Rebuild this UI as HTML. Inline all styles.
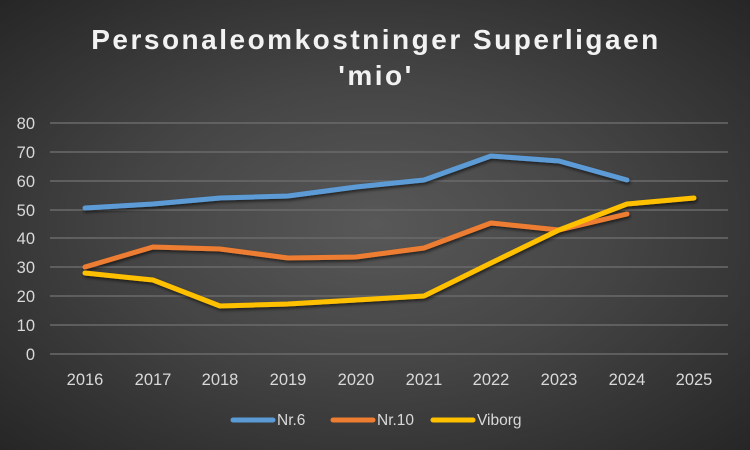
<!DOCTYPE html>
<html><head><style>
body{margin:0;width:750px;height:450px;overflow:hidden;background:radial-gradient(ellipse at 50% 50%,#585858 0%,#454545 45%,#262626 100%);font-family:"Liberation Sans",sans-serif}
</style></head><body>
<svg width="750" height="450" xmlns="http://www.w3.org/2000/svg" style="position:absolute;left:0;top:0">
<defs><filter id="s" x="-5%" y="-20%" width="110%" height="140%"><feDropShadow dx="1" dy="2" stdDeviation="1.5" flood-color="#000" flood-opacity="0.6"/></filter></defs>
<g fill="#f2f2f2" font-weight="bold" font-size="28" text-anchor="middle" letter-spacing="2.5">
<text x="376" y="49">Personaleomkostninger Superligaen</text>
<text x="376" y="85">'mio'</text></g>
<g stroke="#6a6a6a" stroke-width="1.5">
<line x1="50" x2="728" y1="123" y2="123"/><line x1="50" x2="728" y1="152" y2="152"/><line x1="50" x2="728" y1="181" y2="181"/><line x1="50" x2="728" y1="210" y2="210"/><line x1="50" x2="728" y1="238" y2="238"/><line x1="50" x2="728" y1="267" y2="267"/><line x1="50" x2="728" y1="296" y2="296"/><line x1="50" x2="728" y1="325" y2="325"/><line x1="50" x2="728" y1="354" y2="354"/>
</g>
<g fill="#d9d9d9" font-size="16.5" text-anchor="end">
<text x="35" y="129">80</text><text x="35" y="158">70</text><text x="35" y="187">60</text><text x="35" y="216">50</text><text x="35" y="244">40</text><text x="35" y="273">30</text><text x="35" y="302">20</text><text x="35" y="331">10</text><text x="35" y="360">0</text></g>
<g fill="#d9d9d9" font-size="16.5" text-anchor="middle">
<text x="85" y="385">2016</text><text x="153" y="385">2017</text><text x="220" y="385">2018</text><text x="288" y="385">2019</text><text x="356" y="385">2020</text><text x="424" y="385">2021</text><text x="491" y="385">2022</text><text x="559" y="385">2023</text><text x="627" y="385">2024</text><text x="694" y="385">2025</text></g>
<g fill="none" stroke-width="5" stroke-linecap="round" stroke-linejoin="round" filter="url(#s)">
<polyline stroke="#5b9bd5" points="85,208 153,204 220,198 288,196 356,187 424,180 491,156 559,161 627,180"/>
<polyline stroke="#ed7d31" points="85,267 153,247 220,249 288,258 356,257 424,248 491,223 559,230 627,214"/>
<polyline stroke="#ffc000" points="85,273 153,280 220,306 288,304 356,300 424,296 491,263 559,230 627,204 694,198"/>
</g>
<g font-size="15.5" fill="#d9d9d9" stroke-width="5" stroke-linecap="round">
<line x1="233" y1="420" x2="273" y2="420" stroke="#5b9bd5"/><text x="277" y="425">Nr.6</text>
<line x1="333" y1="420" x2="373" y2="420" stroke="#ed7d31"/><text x="377" y="425">Nr.10</text>
<line x1="433" y1="420" x2="473" y2="420" stroke="#ffc000"/><text x="477" y="425">Viborg</text>
</g>
</svg>
</body></html>
